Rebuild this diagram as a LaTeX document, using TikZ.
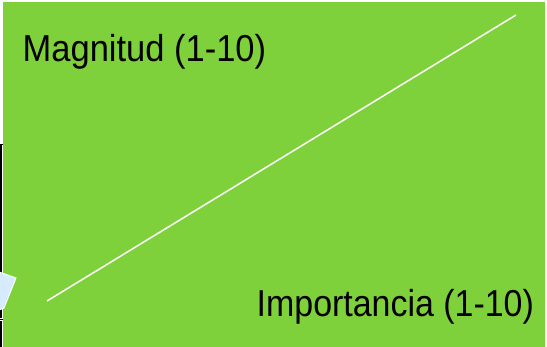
\documentclass[tikz,border=0pt]{standalone}
\usepackage{fontspec}
\setmainfont{Liberation Sans}
\definecolor{bggreen}{HTML}{7FD13B}
\definecolor{paleblue}{HTML}{D6EBFF}
\tikzset{
  lbl/.style={inner sep=0pt, anchor=base west, text=black, font=\fontsize{37.5}{40}\selectfont},
}
\begin{document}
\begin{tikzpicture}[x=1pt,y=-1pt]
\useasboundingbox[fill=white] (0,0) rectangle (547,347);
% left black edge line with ticks
\draw[black, line width=1.5pt] (0.75,145) -- (0.75,318);
\draw[black, line width=1.5pt] (0.75,321) -- (0.75,347);
\draw[black, line width=1pt] (0,145) -- (3,145);
\draw[black, line width=1pt] (0,320) -- (3,320);
% green panel
\fill[bggreen] (3,2.5) rectangle (545,348);
% pale blue shape
\filldraw[fill=paleblue, draw=white, line width=1pt] (-1,272) -- (16,278) -- (4,308) -- (-1,310) -- cycle;
% diagonal
\coordinate (lo) at (47,301);
\coordinate (hi) at (516,15);
\draw[white, line width=1.5pt] (lo) -- (hi);
% labels
\node[lbl] (mag) at (22.5,62) {\scalebox{0.92}[1]{Magnitud (1-10)}};
\node[lbl] (imp) at (256.5,317) {\scalebox{0.905}[1]{Importancia (1-10)}};
\end{tikzpicture}
\end{document}
